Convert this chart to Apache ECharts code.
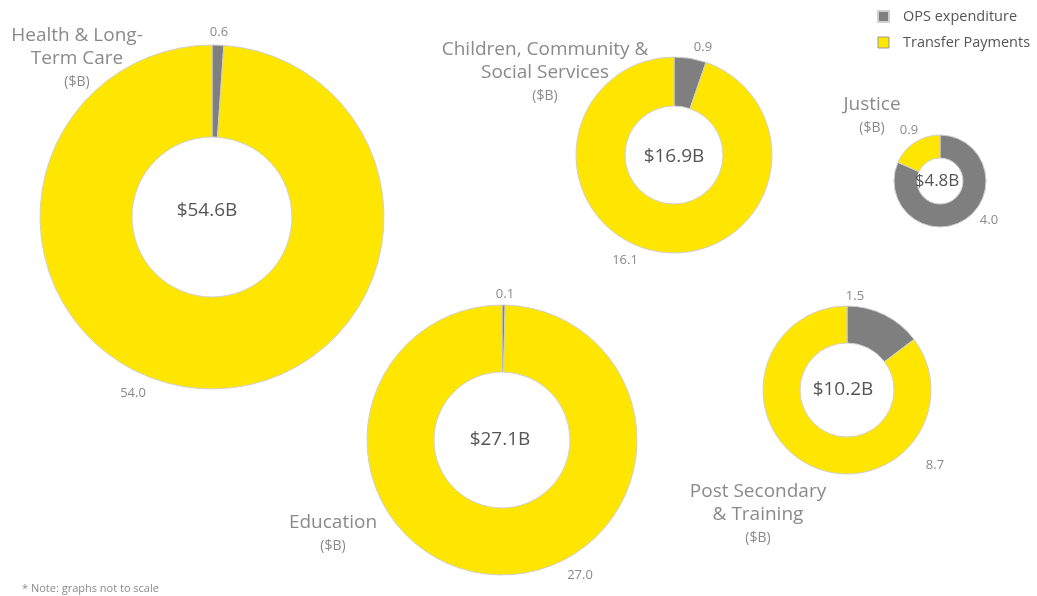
<!DOCTYPE html>
<html>
<head>
<meta charset="utf-8">
<script src="https://cdn.jsdelivr.net/npm/echarts@6/dist/echarts.min.js"></script>
<style>
html,body{margin:0;padding:0;background:#fff;}
#chart{width:1037px;height:596px;}
</style>
</head>
<body>
<div id="chart"></div>
<script>
// ---- data ----
const sectors = ['Health & Long-\nTerm Care', 'Children, Community &\nSocial Services', 'Justice', 'Education', 'Post Secondary\n& Training'];
const totals = ['$54.6B', '$16.9B', '$4.8B', '$27.1B', '$10.2B'];
const opsExpenditure = [0.6, 0.9, 4.0, 0.1, 1.5];
const transferPayments = [54.0, 16.1, 0.9, 27.0, 8.7];
const seriesNames = ['OPS expenditure', 'Transfer Payments'];

// ---- layout (pixels) ----
const pieCenters = [[212, 217], [674, 155], [940, 181], [502, 440], [847, 390]];
const pieRadii = [[80, 172], [49, 98], [23, 46], [68, 135], [47, 84]];
const centerLabelPos = [[207, 211], [674, 157], [937, 181], [500, 440], [843, 390]];
const centerFont = [19, 19, 17, 19, 19];
const titlePos = [[77, 24.5], [545, 38], [872, 93], [333, 511.5], [758, 480]];
const valueLabelPos = [
  [[219, 32], [133, 393]],
  [[703, 47], [625, 260]],
  [[989, 220], [909, 130]],
  [[505, 294], [580, 575]],
  [[855, 296], [935, 465]]
];

const YELLOW = '#FFE600';
const GREY = '#7f7f7f';
const TXT = '#8a8a8a';
const FONT = 'Open Sans';

const chart = echarts.init(document.getElementById('chart'));

const series = sectors.map((s, i) => ({
  type: 'pie',
  name: s,
  center: pieCenters[i],
  radius: pieRadii[i],
  startAngle: 90,
  clockwise: true,
  silent: true,
  label: {
    show: true,
    position: 'outside',
    formatter: p => p.value.toFixed(1),
    color: TXT,
    fontSize: 13,
    fontFamily: FONT
  },
  labelLine: { show: false },
  labelLayout: p => {
    const pos = valueLabelPos[i][p.dataIndex];
    return { x: pos[0], y: pos[1], align: 'center', verticalAlign: 'middle' };
  },
  itemStyle: { borderColor: '#cfcfcf', borderWidth: 1 },
  data: [
    { name: seriesNames[0], value: opsExpenditure[i], itemStyle: { color: GREY } },
    { name: seriesNames[1], value: transferPayments[i], itemStyle: { color: YELLOW } }
  ]
}));

const titles = [];
sectors.forEach((s, i) => {
  titles.push({
    text: s,
    subtext: '($B)',
    left: titlePos[i][0],
    top: titlePos[i][1],
    padding: 0,
    textAlign: 'center',
    itemGap: 3,
    textStyle: { color: TXT, fontSize: 19, fontWeight: 'normal', fontFamily: FONT, lineHeight: 23 },
    subtextStyle: { color: TXT, fontSize: 14, fontFamily: FONT, lineHeight: 18, align: 'center' }
  });
  titles.push({
    text: totals[i],
    left: centerLabelPos[i][0],
    top: centerLabelPos[i][1] - 12,
    padding: 0,
    textAlign: 'center',
    textStyle: { color: '#555', fontSize: centerFont[i], fontWeight: 'normal', fontFamily: FONT, lineHeight: 24 }
  });
});
titles.push({
  text: '* Note: graphs not to scale',
  left: 22,
  top: 582,
  padding: 0,
  textStyle: { color: '#8a8a8a', fontSize: 11, fontWeight: 'normal', fontFamily: FONT, lineHeight: 14 }
});

chart.setOption({
  animation: false,
  title: titles,
  legend: {
    orient: 'vertical',
    left: 877,
    top: 8,
    padding: 0,
    icon: 'rect',
    itemWidth: 11,
    itemHeight: 11,
    itemGap: 9,
    data: [
      { name: seriesNames[0] },
      { name: seriesNames[1], itemStyle: { borderColor: '#999', borderWidth: 1 } }
    ],
    selectedMode: false,
    textStyle: { color: '#555', fontSize: 14.5, fontFamily: FONT, padding: [0, 0, 0, 9], lineHeight: 17 }
  },
  series: series
});
</script>
</body>
</html>
